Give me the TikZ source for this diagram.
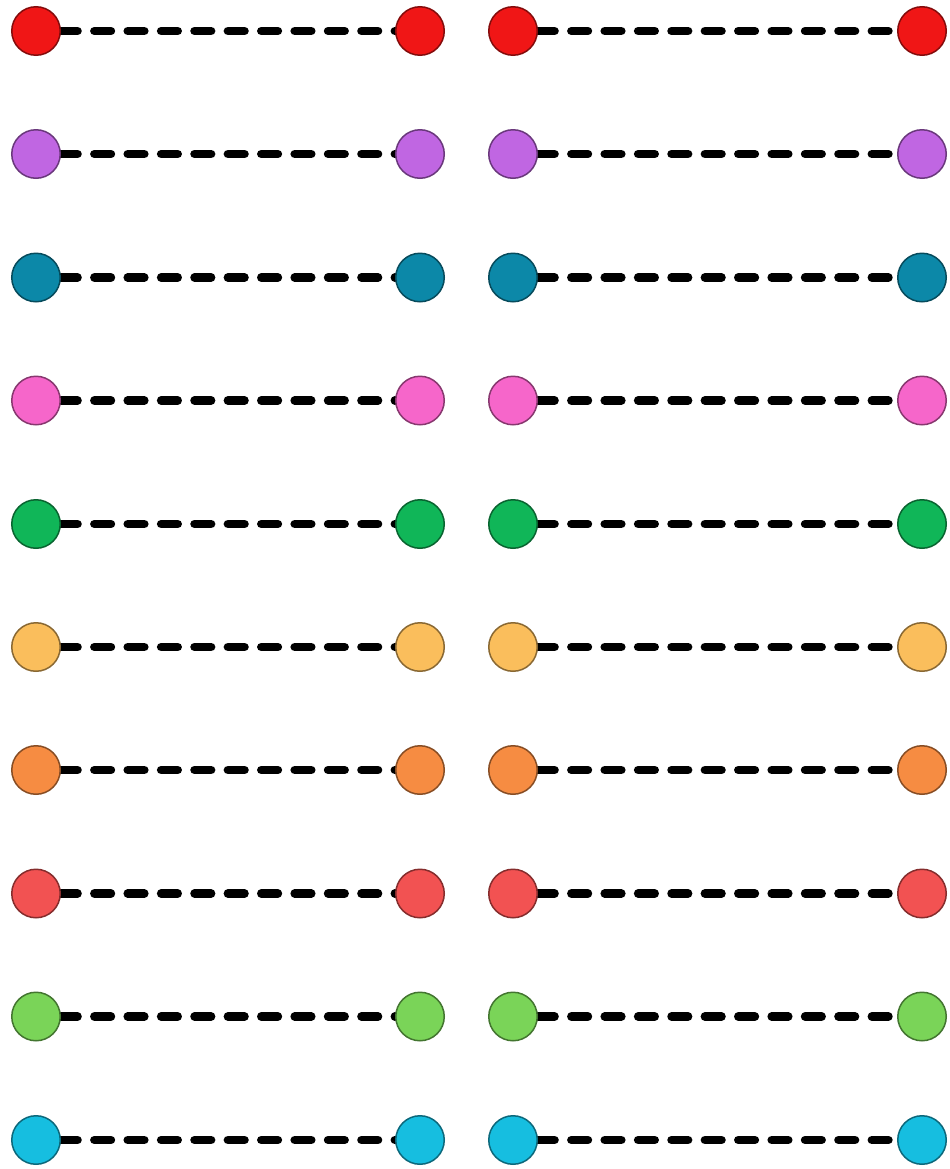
\documentclass[tikz,border=0pt]{standalone}
\usepackage{tikz}
\usetikzlibrary{backgrounds}
\definecolor{DotRed}{RGB}{240,22,22}
\definecolor{DotViolet}{RGB}{192,102,226}
\definecolor{DotTeal}{RGB}{12,136,168}
\definecolor{DotPink}{RGB}{246,102,202}
\definecolor{DotGreen}{RGB}{16,182,88}
\definecolor{DotSand}{RGB}{250,190,92}
\definecolor{DotOrange}{RGB}{246,140,66}
\definecolor{DotCoral}{RGB}{242,82,82}
\definecolor{DotLime}{RGB}{122,212,88}
\definecolor{DotCyan}{RGB}{22,190,224}
\begin{document}
\begin{tikzpicture}[
    dot/.style={circle, fill=#1, draw=#1!55!black, line width=0.85pt,
                minimum size=0.97cm, inner sep=0pt},
    link/.style={line width=4.9pt, line cap=round, black,
                 dash pattern=on 9.4pt off 9.6pt}
  ]
    \useasboundingbox (0,0) rectangle (18.98,-23.38);

    % left column
    \node[dot=DotRed]    (l1a)  at (0.72,-0.62)  {};
    \node[dot=DotRed]    (l1b)  at (8.40,-0.62)  {};
    \node[dot=DotViolet] (l2a)  at (0.72,-3.08)  {};
    \node[dot=DotViolet] (l2b)  at (8.40,-3.08)  {};
    \node[dot=DotTeal]   (l3a)  at (0.72,-5.55)  {};
    \node[dot=DotTeal]   (l3b)  at (8.40,-5.55)  {};
    \node[dot=DotPink]   (l4a)  at (0.72,-8.01)  {};
    \node[dot=DotPink]   (l4b)  at (8.40,-8.01)  {};
    \node[dot=DotGreen]  (l5a)  at (0.72,-10.48) {};
    \node[dot=DotGreen]  (l5b)  at (8.40,-10.48) {};
    \node[dot=DotSand]   (l6a)  at (0.72,-12.94) {};
    \node[dot=DotSand]   (l6b)  at (8.40,-12.94) {};
    \node[dot=DotOrange] (l7a)  at (0.72,-15.40) {};
    \node[dot=DotOrange] (l7b)  at (8.40,-15.40) {};
    \node[dot=DotCoral]  (l8a)  at (0.72,-17.87) {};
    \node[dot=DotCoral]  (l8b)  at (8.40,-17.87) {};
    \node[dot=DotLime]   (l9a)  at (0.72,-20.33) {};
    \node[dot=DotLime]   (l9b)  at (8.40,-20.33) {};
    \node[dot=DotCyan]   (l10a) at (0.72,-22.80) {};
    \node[dot=DotCyan]   (l10b) at (8.40,-22.80) {};

    % right column
    \node[dot=DotRed]    (r1a)  at (10.26,-0.62)  {};
    \node[dot=DotRed]    (r1b)  at (18.44,-0.62)  {};
    \node[dot=DotViolet] (r2a)  at (10.26,-3.08)  {};
    \node[dot=DotViolet] (r2b)  at (18.44,-3.08)  {};
    \node[dot=DotTeal]   (r3a)  at (10.26,-5.55)  {};
    \node[dot=DotTeal]   (r3b)  at (18.44,-5.55)  {};
    \node[dot=DotPink]   (r4a)  at (10.26,-8.01)  {};
    \node[dot=DotPink]   (r4b)  at (18.44,-8.01)  {};
    \node[dot=DotGreen]  (r5a)  at (10.26,-10.48) {};
    \node[dot=DotGreen]  (r5b)  at (18.44,-10.48) {};
    \node[dot=DotSand]   (r6a)  at (10.26,-12.94) {};
    \node[dot=DotSand]   (r6b)  at (18.44,-12.94) {};
    \node[dot=DotOrange] (r7a)  at (10.26,-15.40) {};
    \node[dot=DotOrange] (r7b)  at (18.44,-15.40) {};
    \node[dot=DotCoral]  (r8a)  at (10.26,-17.87) {};
    \node[dot=DotCoral]  (r8b)  at (18.44,-17.87) {};
    \node[dot=DotLime]   (r9a)  at (10.26,-20.33) {};
    \node[dot=DotLime]   (r9b)  at (18.44,-20.33) {};
    \node[dot=DotCyan]   (r10a) at (10.26,-22.80) {};
    \node[dot=DotCyan]   (r10b) at (18.44,-22.80) {};

    \begin{scope}[on background layer]
    \draw[link] (l1a) -- (l1b);
    \draw[link] (l2a) -- (l2b);
    \draw[link] (l3a) -- (l3b);
    \draw[link] (l4a) -- (l4b);
    \draw[link] (l5a) -- (l5b);
    \draw[link] (l6a) -- (l6b);
    \draw[link] (l7a) -- (l7b);
    \draw[link] (l8a) -- (l8b);
    \draw[link] (l9a) -- (l9b);
    \draw[link] (l10a) -- (l10b);
    \draw[link] (r1a) -- (r1b);
    \draw[link] (r2a) -- (r2b);
    \draw[link] (r3a) -- (r3b);
    \draw[link] (r4a) -- (r4b);
    \draw[link] (r5a) -- (r5b);
    \draw[link] (r6a) -- (r6b);
    \draw[link] (r7a) -- (r7b);
    \draw[link] (r8a) -- (r8b);
    \draw[link] (r9a) -- (r9b);
    \draw[link] (r10a) -- (r10b);
    \end{scope}
  \end{tikzpicture}
\end{document}
